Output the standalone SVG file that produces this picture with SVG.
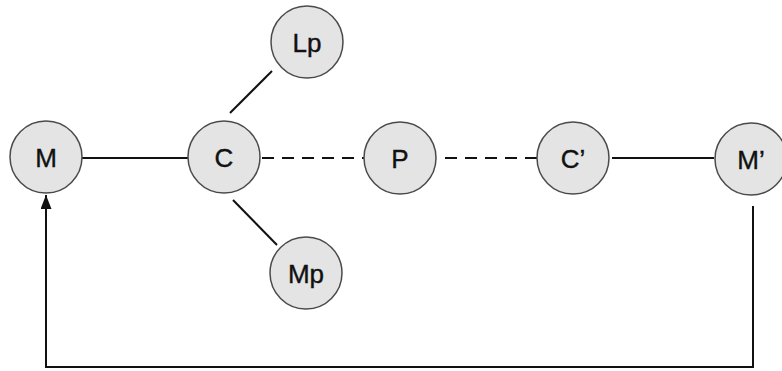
<svg xmlns="http://www.w3.org/2000/svg" width="782" height="371" viewBox="0 0 782 371">
<defs>
<style>
.node circle{fill:#e4e4e4;stroke:#4a4a4a;stroke-width:1.5}
.node text{font-family:"Liberation Sans",Arial,sans-serif;font-size:26px;fill:#111;stroke:#111;stroke-width:0.4;text-anchor:middle}
.ln{stroke:#111;stroke-width:2;fill:none}
.dash{stroke-dasharray:12 8}
</style>
<marker id="ah" markerWidth="16" markerHeight="12" refX="14" refY="5.5" orient="auto" markerUnits="userSpaceOnUse">
<path d="M0,0 L14,5.5 L0,11 Z" fill="#111"/>
</marker>
</defs>
<rect width="782" height="371" fill="#fff"/>
<g id="connectors">
<line class="ln" x1="82" y1="158" x2="188" y2="158"/>
<line class="ln dash" x1="262" y1="158" x2="364" y2="158"/>
<line class="ln dash" x1="445" y1="158" x2="537" y2="158"/>
<line class="ln" x1="612" y1="158" x2="714" y2="158"/>
<line class="ln" x1="230" y1="113" x2="272" y2="71"/>
<line class="ln" x1="233" y1="200" x2="277" y2="245"/>
<polyline class="ln" points="753,206 753,367 46,367 46,195" marker-end="url(#ah)"/>
</g>
<g id="M" class="node"><circle cx="46" cy="157" r="36"/><text x="46" y="167">M</text></g>
<g id="C" class="node"><circle cx="224" cy="157" r="36"/><text x="224" y="167">C</text></g>
<g id="Lp" class="node"><circle cx="307" cy="42" r="36"/><text x="307" y="52">Lp</text></g>
<g id="Mp" class="node"><circle cx="306" cy="273" r="36"/><text x="306" y="283">Mp</text></g>
<g id="P" class="node"><circle cx="400" cy="158" r="36"/><text x="400" y="168">P</text></g>
<g id="C2" class="node"><circle cx="573" cy="158" r="36"/><text x="573" y="168">C’</text></g>
<g id="M2" class="node"><circle cx="751" cy="159" r="36"/><text x="751" y="169">M’</text></g>
</svg>
